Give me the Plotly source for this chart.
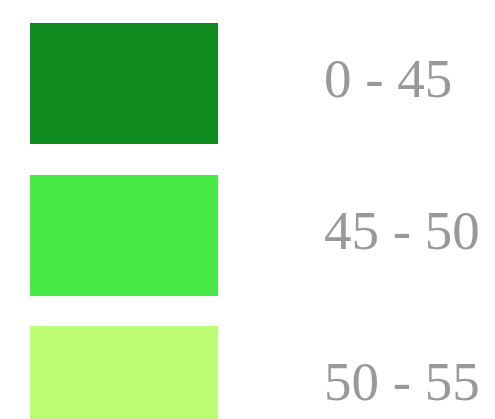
import plotly.graph_objects as go

labels = ["0 - 45", "45 - 50", "50 - 55"]
colors = ["#0E8A1E", "#47EA46", "#BBFE76"]
positions = [0, 1, 2]

# page body has an 8px offset; figure sized to end at the window edge
OFF = 8
W, H = 495 - OFF, 419 - OFF
top_center = 83.5 - OFF
step = 151.5
rect_h = 121
rect_x0, rect_w = 30 - OFF, 188
text_x = 322 - OFF

fig = go.Figure()
fig.add_trace(go.Bar(
    y=positions, x=[rect_w] * len(positions), base=rect_x0,
    orientation="h", marker=dict(color=colors, line=dict(width=0)),
    width=rect_h / step, hoverinfo="skip", showlegend=False,
))
for p, lab in zip(positions, labels):
    fig.add_annotation(x=text_x, y=p, text=lab, xanchor="left", yanchor="middle",
                       yshift=5, showarrow=False,
                       font=dict(family="Liberation Serif", size=55, color="#999999"))

fig.update_layout(
    width=W, height=H, margin=dict(l=0, r=0, t=0, b=0),
    paper_bgcolor="white", plot_bgcolor="white",
    xaxis=dict(range=[0, W], visible=False, fixedrange=True),
    yaxis=dict(range=[(H - top_center) / step, -top_center / step], visible=False, fixedrange=True),
    bargap=0,
)
fig.write_html("out.html", config={"displayModeBar": False})
